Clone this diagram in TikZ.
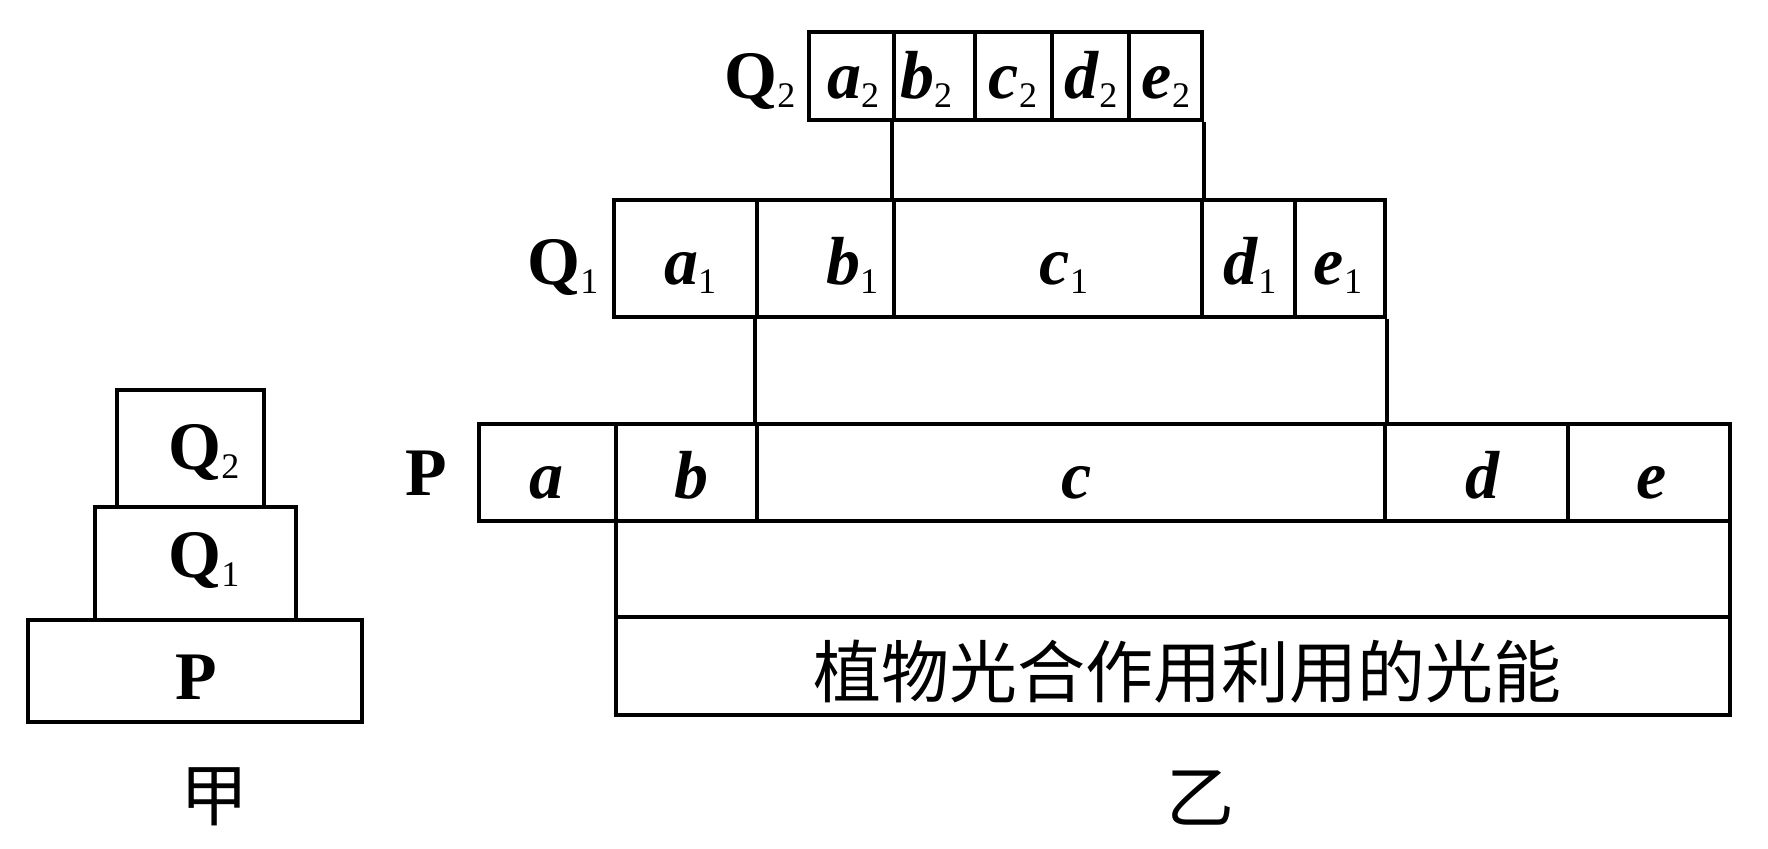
\documentclass[tikz,border=0pt]{standalone}
\usepackage{fontspec}
\setmainfont{Liberation Serif}
\newfontfamily\cjk{Noto Sans CJK SC}
\usetikzlibrary{fit}
\newcommand{\itsub}[2]{\textbf{\textit{#1}}\raisebox{-4.5pt}{\fontsize{18}{18}\selectfont #2}}
\newcommand{\upsub}[2]{\textbf{#1}\raisebox{-4.5pt}{\fontsize{18}{18}\selectfont #2}}
\begin{document}
\begin{tikzpicture}[x=0.5pt,y=-0.5pt, line width=1.8pt,
  cell/.style={draw, inner sep=0pt, line join=miter},
  txt/.style={inner sep=0pt, anchor=base, font=\fontsize{34}{34}\selectfont},
  cjktxt/.style={inner sep=0pt, font=\cjk\fontsize{34}{34}\selectfont}]
\useasboundingbox (0,0) rectangle (1768,849);
% Q2 row
\node[cell, fit={(809,32)(894,120)}] (a2) {};
\node[cell, fit={(894,32)(975,120)}] (b2) {};
\node[cell, fit={(975,32)(1052,120)}] (c2) {};
\node[cell, fit={(1052,32)(1129,120)}] (d2) {};
\node[cell, fit={(1129,32)(1202,120)}] (e2) {};
% Q1 row
\node[cell, fit={(614,200)(757,317)}] (a1) {};
\node[cell, fit={(757,200)(894,317)}] (b1) {};
\node[cell, fit={(894,200)(1202,317)}] (c1) {};
\node[cell, fit={(1202,200)(1295,317)}] (d1) {};
\node[cell, fit={(1295,200)(1385,317)}] (e1) {};
% P row
\node[cell, fit={(479,424)(616,521)}] (a) {};
\node[cell, fit={(616,424)(757,521)}] (b) {};
\node[cell, fit={(757,424)(1385,521)}] (c) {};
\node[cell, fit={(1385,424)(1568,521)}] (d) {};
\node[cell, fit={(1568,424)(1730,521)}] (e) {};
% bottom bars
\node[cell, fit={(616,521)(1730,617)}] (upper) {};
\node[cell, fit={(616,617)(1730,715)}] (light) {};
% pyramid
\node[cell, fit={(117,390)(264,507)}] (lq2) {};
\node[cell, fit={(95,507)(296,620)}] (lq1) {};
\node[cell, fit={(28,620)(362,722)}] (lp) {};
% connectors
\draw (b2.south west) -- (c1.north west);
\draw (e2.south east) -- (c1.north east);
\draw (b1.south west) -- (c.north west);
\draw (e1.south east) -- (c.north east);
% labels Q2 row
\node[txt] (ta2) at (853,99) {\itsub{a}{2}};
\node[txt] (tb2) at (926,99) {\itsub{b}{2}};
\node[txt] (tc2) at (1013,99) {\itsub{c}{2}};
\node[txt] (td2) at (1091,99) {\itsub{d}{2}};
\node[txt] (te2) at (1166,99) {\itsub{e}{2}};
% labels Q1 row
\node[txt] (ta1) at (690,285) {\itsub{a}{1}};
\node[txt] (tb1) at (852,285) {\itsub{b}{1}};
\node[txt] (tc1) at (1064,285) {\itsub{c}{1}};
\node[txt] (td1) at (1250,285) {\itsub{d}{1}};
\node[txt] (te1) at (1338,285) {\itsub{e}{1}};
% labels P row
\node[txt] (ta) at (546,499) {\textbf{\textit{a}}};
\node[txt] (tb) at (691,499) {\textbf{\textit{b}}};
\node[txt] (tc) at (1077,499) {\textbf{\textit{c}}};
\node[txt] (td) at (1483,499) {\textbf{\textit{d}}};
\node[txt] (te) at (1652,499) {\textbf{\textit{e}}};
% row labels
\node[txt] (rq2) at (760,99) {\upsub{Q}{2}};
\node[txt] (rq1) at (563,285) {\upsub{Q}{1}};
\node[txt] (rp) at (426,496) {\textbf{P}};
% pyramid labels
\node[txt] (pq2) at (204,470) {\upsub{Q}{2}};
\node[txt] (pq1) at (204,578) {\upsub{Q}{1}};
\node[txt] (pp) at (196,700) {\textbf{P}};
% chinese text
\node[cjktxt] (tlight) at (1187,672) {植物光合作用利用的光能};
\node[cjktxt] (jia) at (214,797) {甲};
\node[cjktxt] (yi) at (1200,798) {乙};
\end{tikzpicture}
\end{document}
